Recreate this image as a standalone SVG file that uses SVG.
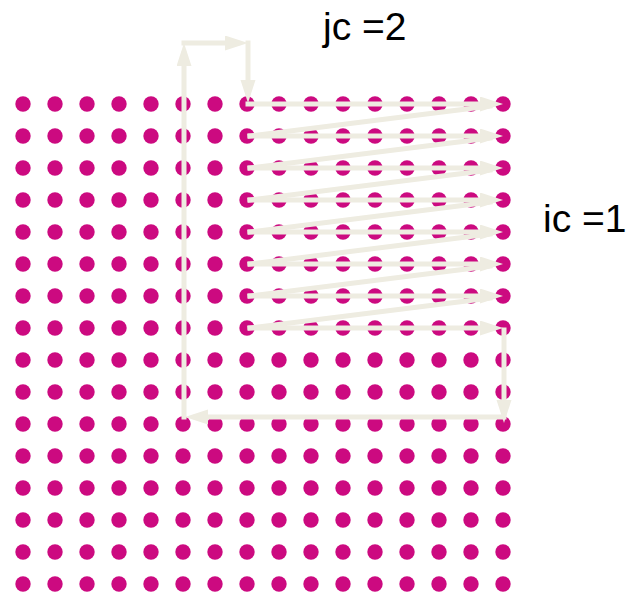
<svg xmlns="http://www.w3.org/2000/svg" width="639" height="594" viewBox="0 0 639 594">
<style>
.dot{fill:#CC0A80}
.a{stroke:#EEECE1;stroke-width:5;fill:none;stroke-linecap:square}
.lbl{font-family:"Liberation Sans",Arial,sans-serif;font-size:39px;fill:#000}
</style>
<defs>
<marker id="ah" markerUnits="userSpaceOnUse" markerWidth="24" markerHeight="16" refX="12" refY="7.5" orient="auto" viewBox="0 0 24 16">
<path d="M0,0 L23,7.5 L0,15 z" fill="#EEECE1"/>
</marker>
<circle id="d" r="7.7" class="dot"/>
</defs>
<rect width="639" height="594" fill="#fff"/>
<g id="grid">
<g id="r0"><use href="#d" x="23" y="104"/><use href="#d" x="55" y="104"/><use href="#d" x="87" y="104"/><use href="#d" x="119" y="104"/><use href="#d" x="151" y="104"/><use href="#d" x="183" y="104"/><use href="#d" x="215" y="104"/><use href="#d" x="247" y="104"/><use href="#d" x="279" y="104"/><use href="#d" x="311" y="104"/><use href="#d" x="343" y="104"/><use href="#d" x="375" y="104"/><use href="#d" x="407" y="104"/><use href="#d" x="439" y="104"/><use href="#d" x="471" y="104"/><use href="#d" x="503" y="104"/></g>
<use href="#r0" y="32"/><use href="#r0" y="64"/><use href="#r0" y="96"/><use href="#r0" y="128"/>
<use href="#r0" y="160"/><use href="#r0" y="192"/><use href="#r0" y="224"/><use href="#r0" y="256"/>
<use href="#r0" y="288"/><use href="#r0" y="320"/><use href="#r0" y="352"/><use href="#r0" y="384"/>
<use href="#r0" y="416"/><use href="#r0" y="448"/><use href="#r0" y="480"/>
</g>
<g id="connectors">
<line class="a" x1="184" y1="417" x2="184" y2="54" marker-end="url(#ah)"/>
<line class="a" x1="184" y1="43" x2="237" y2="43" marker-end="url(#ah)"/>
<line class="a" x1="248" y1="43" x2="248" y2="92" marker-end="url(#ah)"/>
<line class="a" x1="248" y1="104" x2="492" y2="104" marker-end="url(#ah)"/>
<line class="a" x1="250" y1="136" x2="492" y2="136" marker-end="url(#ah)"/>
<line class="a" x1="250" y1="168" x2="492" y2="168" marker-end="url(#ah)"/>
<line class="a" x1="250" y1="200" x2="492" y2="200" marker-end="url(#ah)"/>
<line class="a" x1="250" y1="232" x2="492" y2="232" marker-end="url(#ah)"/>
<line class="a" x1="250" y1="264" x2="492" y2="264" marker-end="url(#ah)"/>
<line class="a" x1="250" y1="296" x2="492" y2="296" marker-end="url(#ah)"/>
<line class="a" x1="250" y1="328" x2="492" y2="328" marker-end="url(#ah)"/>
<line class="a" x1="250" y1="136" x2="490" y2="106"/>
<line class="a" x1="250" y1="168" x2="490" y2="138"/>
<line class="a" x1="250" y1="200" x2="490" y2="170"/>
<line class="a" x1="250" y1="232" x2="490" y2="202"/>
<line class="a" x1="250" y1="264" x2="490" y2="234"/>
<line class="a" x1="250" y1="296" x2="490" y2="266"/>
<line class="a" x1="250" y1="328" x2="490" y2="298"/>
<line class="a" x1="504" y1="330" x2="504" y2="412" marker-end="url(#ah)"/>
<line class="a" x1="504" y1="417" x2="196" y2="417" marker-end="url(#ah)"/>
</g>
<g id="labels">
<text class="lbl" x="323" y="40">jc =2</text>
<text class="lbl" x="543" y="232">ic =1</text>
</g>
</svg>
